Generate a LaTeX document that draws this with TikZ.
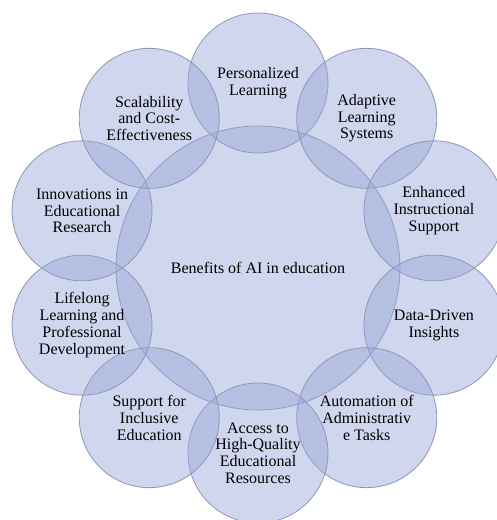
\documentclass[tikz,border=0pt]{standalone}
\usepackage{fontspec}
\setmainfont{Liberation Serif}

\definecolor{bubblefill}{RGB}{150,165,215}
\definecolor{bubbleline}{RGB}{140,150,185}

\tikzset{
	bubble/.style={circle, draw=bubbleline, line width=0.8pt, fill=bubblefill, fill opacity=0.45, text opacity=1, align=center, inner sep=0pt, font=\fontsize{16}{16.8}\selectfont},
	benefit/.style={bubble, minimum size=140pt},
	hub/.style={bubble, minimum size=284pt}
}

\begin{document}
\begin{tikzpicture}[x=1pt, y=1pt]
	\useasboundingbox (-258,-252) rectangle (239,268);
	% middle circle
	\node[hub] (hub) at (0,0) {Benefits of AI in education};
	% ring of ten benefits, 36 degrees apart
	\node[benefit] (pers) at (90:185) {Personalized\\Learning};
	\node[benefit] (adapt) at (54:185) {Adaptive\\Learning\\Systems};
	\node[benefit] (instr) at (18:185) {Enhanced\\Instructional\\Support};
	\node[benefit] (data) at (-18:185) {Data-Driven\\Insights};
	\node[benefit] (admin) at (-54:185) {Automation of\\Administrativ\\e Tasks};
	\node[benefit] (access) at (-90:185) {Access to\\High-Quality\\Educational\\Resources};
	\node[benefit] (incl) at (-126:185) {Support for\\Inclusive\\Education};
	\node[benefit] (life) at (-162:185) {Lifelong\\Learning and\\Professional\\Development};
	\node[benefit] (innov) at (162:185) {Innovations in\\Educational\\Research};
	\node[benefit] (scale) at (126:185) {Scalability\\and Cost-\\Effectiveness};
\end{tikzpicture}
\end{document}
